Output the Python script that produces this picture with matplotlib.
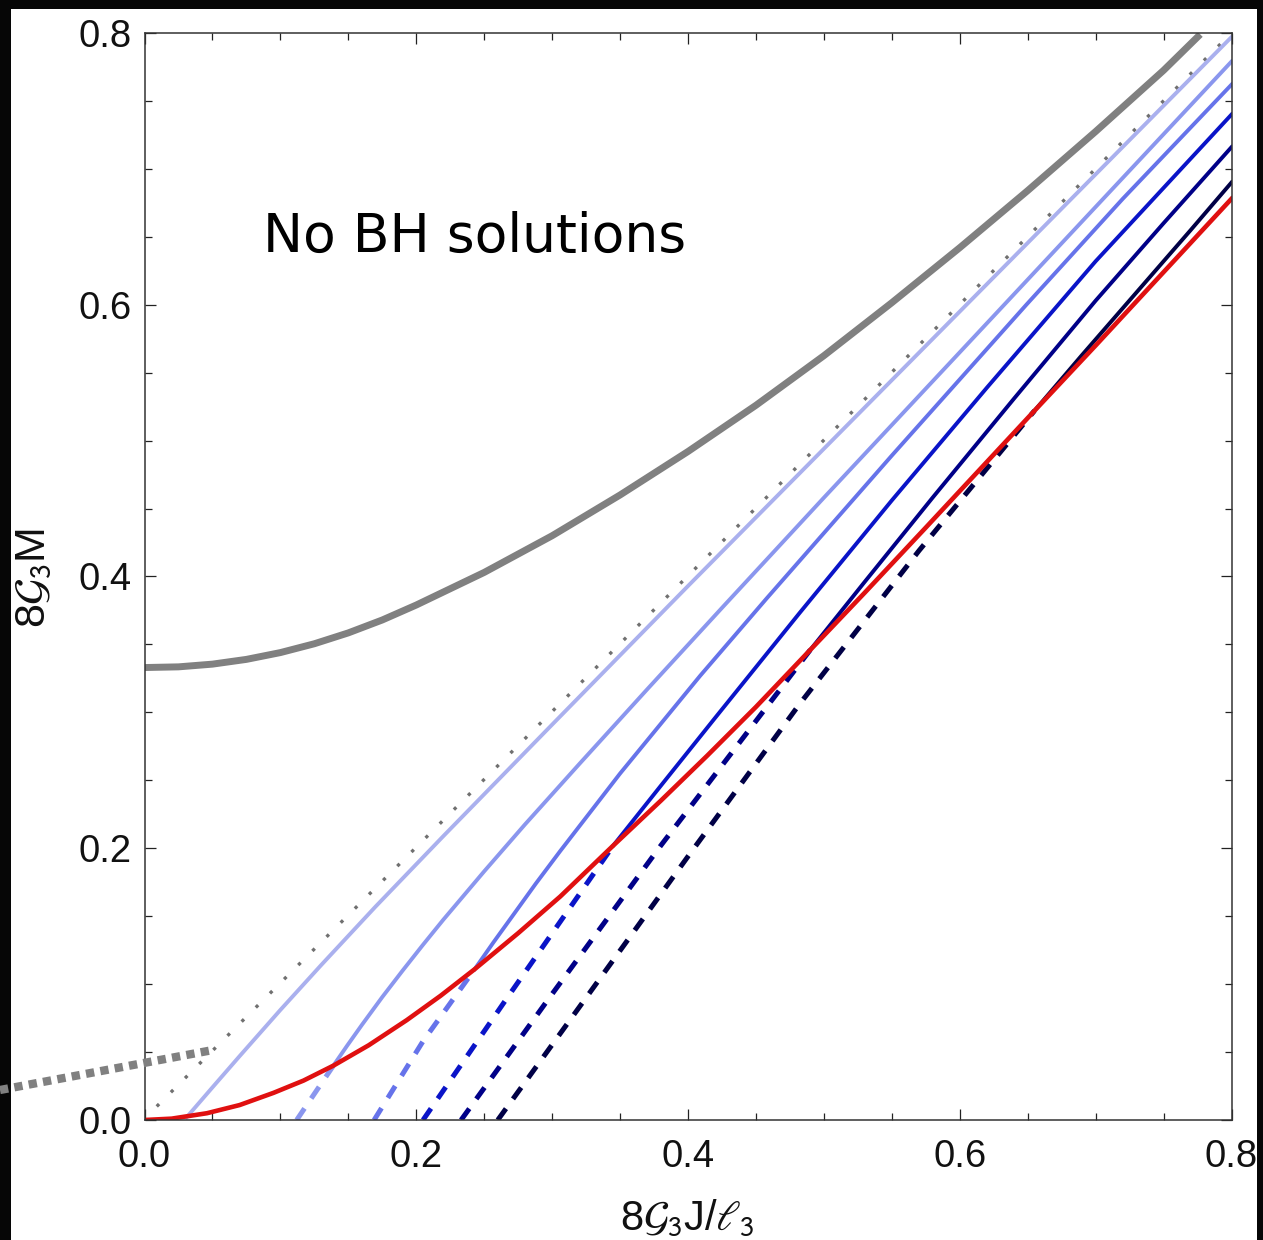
import matplotlib
matplotlib.use("Agg")
import matplotlib.pyplot as plt
from matplotlib.patches import Rectangle
from matplotlib.lines import Line2D
from matplotlib.ticker import MultipleLocator, FormatStrFormatter

plt.rcParams["font.family"] = ["Liberation Sans", "DejaVu Sans"]
plt.rcParams["mathtext.fontset"] = "stixsans"

# ----------------------------
# data (J, M)
# ----------------------------
gray_J = [0.0, 0.025, 0.05, 0.075, 0.10, 0.125, 0.15, 0.175, 0.20, 0.25, 0.30,
          0.35, 0.40, 0.45, 0.50, 0.55, 0.60, 0.65, 0.70, 0.75, 0.777]
gray_M = [0.333, 0.3335, 0.3355, 0.339, 0.344, 0.3505, 0.3585, 0.368, 0.379,
          0.403, 0.430, 0.460, 0.492, 0.526, 0.5625, 0.6015, 0.642, 0.684,
          0.7275, 0.7725, 0.799]

diag_J = [0.009, 0.80]
diag_M = [0.010, 0.80]

red_J = [0.0, 0.02, 0.046, 0.07, 0.095, 0.117, 0.139, 0.165, 0.193, 0.218,
         0.243, 0.275, 0.306, 0.345, 0.38, 0.414, 0.45, 0.49, 0.53, 0.575,
         0.615, 0.655, 0.70, 0.75, 0.80]
red_M = [0.0, 0.001, 0.005, 0.011, 0.020, 0.029, 0.040, 0.055, 0.0735, 0.0915,
         0.111, 0.1375, 0.1645, 0.202, 0.235, 0.268, 0.304, 0.346, 0.388, 0.436,
         0.479, 0.522, 0.570, 0.624, 0.678]

# solid branches (above the red curve)
L1_J = [0.031, 0.05, 0.07, 0.10, 0.13, 0.17, 0.22, 0.30, 0.40, 0.60, 0.80]
L1_M = [0.002, 0.024, 0.047, 0.081, 0.114, 0.157, 0.209, 0.291, 0.393, 0.595, 0.797]
L2_J = [0.139, 0.149, 0.16, 0.175, 0.19, 0.205, 0.22, 0.25, 0.28, 0.32, 0.37,
        0.426, 0.50, 0.60, 0.70, 0.80]
L2_M = [0.040, 0.0545, 0.070, 0.0905, 0.110, 0.129, 0.1475, 0.183, 0.2175,
        0.262, 0.317, 0.378, 0.458, 0.565, 0.672, 0.779]
L3_J = [0.243, 0.257, 0.27, 0.288, 0.306, 0.35, 0.409, 0.458, 0.55, 0.649, 0.72, 0.80]
L3_M = [0.111, 0.131, 0.149, 0.174, 0.198, 0.255, 0.327, 0.384, 0.489, 0.600,
        0.678, 0.762]
L4_J = [0.345, 0.38, 0.42, 0.482, 0.55, 0.62, 0.70, 0.80]
L4_M = [0.202, 0.246, 0.296, 0.373, 0.456, 0.539, 0.632, 0.740]
L5_J = [0.49, 0.53, 0.58, 0.64, 0.70, 0.75, 0.80]
L5_M = [0.346, 0.396, 0.458, 0.531, 0.603, 0.660, 0.716]
L6_J = [0.655, 0.69, 0.73, 0.77, 0.80]
L6_M = [0.522, 0.563, 0.609, 0.655, 0.690]

# dashed branches (below the red curve)
D2_J = [0.112, 0.139]
D2_M = [0.0, 0.040]
D3_J = [0.169, 0.205, 0.243]
D3_M = [0.0, 0.058, 0.111]
D4_J = [0.205, 0.267, 0.345]
D4_M = [0.0, 0.090, 0.202]
D5_J = [0.233, 0.298, 0.38, 0.49]
D5_M = [0.0, 0.090, 0.202, 0.346]
D6_J = [0.26, 0.325, 0.40, 0.482, 0.57, 0.655]
D6_M = [0.0, 0.090, 0.194, 0.306, 0.419, 0.522]

blue_cols = ["#aab0ee", "#8a96ee", "#6673ea", "#0a14c8", "#000088", "#000046"]

# ----------------------------
# figure
# ----------------------------
W, H = 1263, 1240
fig = plt.figure(figsize=(W / 100, H / 100), dpi=100, facecolor="#060606")
fig.add_artist(Rectangle((11 / W, 0), (1257 - 11) / W, (H - 9) / H,
                         transform=fig.transFigure, facecolor="white",
                         edgecolor="none", zorder=-10))

ax = fig.add_axes([144.5 / W, 1 - 1120 / H, 1087 / W, 1087 / H])
ax.set_facecolor("white")

ax.plot(gray_J, gray_M, color="#808080", lw=5, solid_capstyle="butt",
        solid_joinstyle="round")
ax.plot(diag_J, diag_M, color="#707070", lw=2.4, dashes=(1, 5))

solids = [(L1_J, L1_M), (L2_J, L2_M), (L3_J, L3_M),
          (L4_J, L4_M), (L5_J, L5_M), (L6_J, L6_M)]
for (j, m), c in zip(solids, blue_cols):
    ax.plot(j, m, color=c, lw=2.8, solid_joinstyle="round")

dashed = [(D2_J, D2_M), (D3_J, D3_M), (D4_J, D4_M), (D5_J, D5_M), (D6_J, D6_M)]
for (j, m), c in zip(dashed, blue_cols[1:]):
    ax.plot(j, m, color=c, lw=3.6, dashes=(2.8, 2.4), dash_capstyle="butt")

ax.plot(red_J, red_M, color="#e01010", lw=3.3, solid_joinstyle="round")

ax.text(0.087, 0.639, "No BH solutions", fontsize=38.5,
        family="DejaVu Sans", va="baseline", ha="left")

ax.set_xlim(0, 0.8)
ax.set_ylim(0, 0.8)
for a in (ax.xaxis, ax.yaxis):
    a.set_major_locator(MultipleLocator(0.2))
    a.set_minor_locator(MultipleLocator(0.05))
    a.set_major_formatter(FormatStrFormatter("%.1f"))
ax.tick_params(which="both", direction="in", top=True, right=True,
               width=0.9, color="#222222")
ax.tick_params(which="major", length=8)
ax.tick_params(which="minor", length=5)
ax.tick_params(labelsize=27.5, labelcolor="#111111")
ax.tick_params(axis="x", pad=14)
ax.tick_params(axis="y", pad=9)
for s in ax.spines.values():
    s.set_linewidth(1.1)
    s.set_color("#333333")

fig.text(34 / W, 1 - 578 / H, r"8$\mathcal{G}_3$M", rotation=90,
         fontsize=31, ha="center", va="center", color="#111111")
fig.text(687 / W, 1 - 1219 / H, r"8$\mathcal{G}_3$J/$\ell_3$",
         fontsize=30, ha="center", va="center", color="#111111")

# grey pointer line leaving the plot
fig.add_artist(Line2D([0, 213 / W], [1 - 1090 / H, 1 - 1050 / H],
                      transform=fig.transFigure, color="#808080", lw=6,
                      dashes=(1, 0.75), dash_capstyle="butt"))

fig.savefig("out.png", dpi=100, facecolor=fig.get_facecolor())
